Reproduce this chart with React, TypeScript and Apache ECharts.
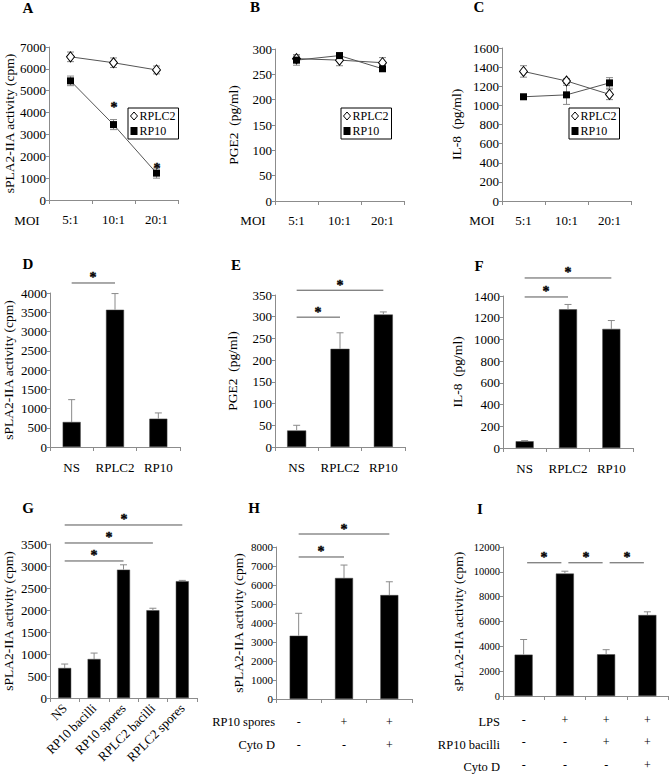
import React, { useEffect, useRef } from 'react';
import * as echarts from 'echarts';

const FONT = 'Liberation Serif';
const AX = '#8c8c8c';
const ERR = '#8a8a8a';
const SIG = '#555';

// ---- Panels A-C (MOI) ----
const moiCats = ['5:1', '10:1', '20:1'];
const aRPLC2 = [6550, 6280, 5950];
const aRPLC2Err = [220, 220, 180];
const aRP10 = [5450, 3450, 1230];
const aRP10Err = [220, 230, 230];
const aStars = [[1, 4370], [2, 1560]];
const bRPLC2 = [281, 278, 273];
const bRPLC2Err = [8, 11, 10];
const bRP10 = [278, 287, 261];
const bRP10Err = [10, 5, 5];
const cRPLC2 = [1355, 1255, 1115];
const cRPLC2Err = [60, 25, 55];
const cRP10 = [1090, 1110, 1235];
const cRP10Err = [20, 100, 55];

// ---- Panels D-F ----
const strainCats = ['NS', 'RPLC2', 'RP10'];
const dVals = [650, 3565, 735];
const dErr = [580, 420, 150];
const dSig = [[0, 1, 4260]];
const eVals = [38, 226, 305];
const eErr = [12, 37, 6];
const eSig = [[0, 1, 299], [0, 2, 361]];
const fVals = [62, 1277, 1097];
const fErr = [6, 45, 77];
const fSig = [[0, 1, 1391], [0, 2, 1566]];

// ---- Panel G ----
const gCats = ['NS', 'RP10 bacilli', 'RP10 spores', 'RPLC2 bacilli', 'RPLC2 spores'];
const gVals = [682, 886, 2917, 1995, 2655];
const gErr = [90, 135, 110, 45, 18];
const gSig = [[0, 2, 3114], [0, 3, 3523], [0, 4, 3932]];

// ---- Panel H ----
const hRowNames = ['RP10 spores', 'Cyto D'];
const hRows = [['-', '+', '+'], ['-', '-', '+']];
const hVals = [3330, 6370, 5470];
const hErr = [1180, 680, 700];
const hSig = [[0, 1, 7474], [0, 2, 8684]];

// ---- Panel I ----
const iRowNames = ['LPS', 'RP10 bacilli', 'Cyto D'];
const iRows = [['-', '+', '+', '+'], ['-', '-', '+', '+'], ['-', '-', '-', '+']];
const iVals = [3330, 9860, 3360, 6520];
const iErr = [1220, 190, 370, 260];
const iSig = [[0, 1, 10728], [1, 2, 10728], [2, 3, 10728]];

const yNames = [
  'sPLA2-IIA activity (cpm)', 'PGE2  (pg/ml)', 'IL-8  (pg/ml)',
  'sPLA2-IIA activity (cpm)', 'PGE2  (pg/ml)', 'IL-8  (pg/ml)',
  'sPLA2-IIA activity (cpm)', 'sPLA2-IIA activity (cpm)', 'sPLA2-IIA activity (cpm)',
];
const yMax = [7000, 300, 1600, 4000, 350, 1400, 3500, 8000, 12000];
const yInterval = [1000, 50, 200, 500, 50, 200, 500, 1000, 2000];
const panelLetters = ['A', 'B', 'C', 'D', 'E', 'F', 'G', 'H', 'I'];

const joinRows = (rows: string[][]) => rows[0].map((_, i) => rows.map((r) => r[i]).join('\n'));

function buildOption() {
  const grids = [
    { left: 49, top: 47, width: 129, height: 153 },
    { left: 275, top: 49, width: 129, height: 152 },
    { left: 502, top: 48, width: 129, height: 153 },
    { left: 49, top: 293, width: 131, height: 154 },
    { left: 275, top: 295, width: 130, height: 152 },
    { left: 503, top: 296, width: 130, height: 152 },
    { left: 48, top: 544, width: 149, height: 154 },
    { left: 276, top: 547, width: 136, height: 152 },
    { left: 503, top: 547, width: 165, height: 151 },
  ];
  const nameGaps = [32, 35, 39, 35, 36, 39, 35, 31, 38];
  const tickFont = [13, 13, 13, 13, 13, 13, 13, 11, 10.5];

  const catData = [moiCats, moiCats, moiCats, strainCats, strainCats, strainCats, gCats, joinRows(hRows), joinRows(iRows)];
  const xAxis = catData.map((data, gi) => {
    const label: any = { color: '#000', fontFamily: FONT, fontSize: 13, interval: 0, margin: gi < 3 ? 13 : 14 };
    if (gi === 6) { label.rotate = 45; label.margin = 8; }
    if (gi === 7) { label.lineHeight = 23; label.margin = 11; label.fontSize = 12; }
    if (gi === 8) { label.lineHeight = 22.5; label.margin = 12.5; label.fontSize = 12; }
    return {
      type: 'category', gridIndex: gi, data, boundaryGap: true,
      axisLine: { show: true, lineStyle: { color: AX, width: 1 } },
      axisTick: { show: true, length: 4, alignWithLabel: false, lineStyle: { color: AX } },
      axisLabel: label, splitLine: { show: false },
    };
  });
  const yAxis = grids.map((_, gi) => ({
    type: 'value', gridIndex: gi, min: 0, max: yMax[gi], interval: yInterval[gi],
    name: yNames[gi], nameLocation: 'middle', nameGap: nameGaps[gi],
    nameTextStyle: { color: '#000', fontFamily: FONT, fontSize: 13.5 },
    axisLine: { show: true, lineStyle: { color: AX, width: 1 } },
    axisTick: { show: true, length: 3, lineStyle: { color: AX } },
    axisLabel: { color: '#000', fontFamily: FONT, fontSize: tickFont[gi], margin: 3, formatter: (v: number) => String(v) },
    splitLine: { show: false },
  }));

  const lineSeries = (gi: number, name: string, data: number[]) => {
    const hollow = name === 'RPLC2';
    return {
      type: 'line', name, xAxisIndex: gi, yAxisIndex: gi, data, z: 4, silent: true,
      symbol: hollow ? 'diamond' : 'rect', symbolSize: hollow ? [8, 10] : 7,
      itemStyle: hollow ? { color: '#fff', borderColor: '#000', borderWidth: 1 } : { color: '#000', borderWidth: 0 },
      lineStyle: { color: '#555', width: 1 },
      emphasis: { disabled: true },
    };
  };

  const errSeries = (gi: number, vals: number[], errs: number[], both: boolean) => ({
    type: 'custom', xAxisIndex: gi, yAxisIndex: gi, silent: true, z: both ? 2 : 3,
    itemStyle: { color: ERR },
    data: vals.map((v, i) => [i, v, errs[i]]),
    encode: { x: 0, y: 1 },
    renderItem: (_p: any, api: any) => {
      const i = api.value(0), v = api.value(1), e = api.value(2);
      const top = api.coord([i, v + e]);
      const bot = api.coord([i, both ? v - e : v]);
      const hw = 3.5;
      const st = { stroke: ERR, lineWidth: 1 };
      const children: any[] = [
        { type: 'line', shape: { x1: top[0], y1: top[1], x2: bot[0], y2: bot[1] }, style: st },
        { type: 'line', shape: { x1: top[0] - hw, y1: top[1], x2: top[0] + hw, y2: top[1] }, style: st },
      ];
      if (both) children.push({ type: 'line', shape: { x1: bot[0] - hw, y1: bot[1], x2: bot[0] + hw, y2: bot[1] }, style: st });
      return { type: 'group', children };
    },
  });

  const starStyle = (x: number, y: number) => ({
    text: '*', x: Math.round(x), y: Math.round(y), align: 'center', verticalAlign: 'middle',
    fontFamily: FONT, fontSize: 14, fontWeight: 'bold', fill: '#000', stroke: '#000', lineWidth: 0.4,
  });

  const sigSeries = (gi: number, data: number[][], inset: number) => ({
    type: 'custom', xAxisIndex: gi, yAxisIndex: gi, silent: true, z: 5, clip: false,
    itemStyle: { color: '#000' },
    data, encode: { x: 0, y: 2 },
    renderItem: (_p: any, api: any) => {
      const p0 = api.coord([api.value(0), api.value(2)]);
      const p1 = api.coord([api.value(1), api.value(2)]);
      const x0 = p0[0] + inset, x1 = p1[0] - inset, y = p0[1];
      return {
        type: 'group', children: [
          { type: 'line', shape: { x1: x0, y1: y, x2: x1, y2: y }, style: { stroke: SIG, lineWidth: 1 } },
          { type: 'text', style: starStyle((x0 + x1) / 2, y - 5.5) },
        ],
      };
    },
  });

  const starSeries = (gi: number, data: number[][]) => ({
    type: 'custom', xAxisIndex: gi, yAxisIndex: gi, silent: true, z: 5, clip: false,
    itemStyle: { color: '#000' },
    data, encode: { x: 0, y: 1 },
    renderItem: (_p: any, api: any) => {
      const p = api.coord([api.value(0), api.value(1)]);
      return { type: 'text', style: starStyle(p[0], p[1] + 2.5) };
    },
  });

  const barSeries = (gi: number, vals: number[], barWidth: number) => ({
    type: 'bar', xAxisIndex: gi, yAxisIndex: gi, data: vals, barWidth, silent: true, z: 2,
    itemStyle: { color: '#000', borderColor: '#444', borderWidth: 0.5 },
    emphasis: { disabled: true },
  });

  const series: any[] = [
    lineSeries(0, 'RPLC2', aRPLC2), lineSeries(0, 'RP10', aRP10),
    errSeries(0, aRPLC2, aRPLC2Err, true), errSeries(0, aRP10, aRP10Err, true), starSeries(0, aStars),
    lineSeries(1, 'RPLC2', bRPLC2), lineSeries(1, 'RP10', bRP10),
    errSeries(1, bRPLC2, bRPLC2Err, true), errSeries(1, bRP10, bRP10Err, true),
    lineSeries(2, 'RPLC2', cRPLC2), lineSeries(2, 'RP10', cRP10),
    errSeries(2, cRPLC2, cRPLC2Err, true), errSeries(2, cRP10, cRP10Err, true),
    barSeries(3, dVals, 18), errSeries(3, dVals, dErr, false), sigSeries(3, dSig, 0),
    barSeries(4, eVals, 19), errSeries(4, eVals, eErr, false), sigSeries(4, eSig, 0),
    barSeries(5, fVals, 18), errSeries(5, fVals, fErr, false), sigSeries(5, fSig, 0),
    barSeries(6, gVals, 13), errSeries(6, gVals, gErr, false), sigSeries(6, gSig, 0),
    barSeries(7, hVals, 18), errSeries(7, hVals, hErr, false), sigSeries(7, hSig, 0),
    barSeries(8, iVals, 18), errSeries(8, iVals, iErr, false), sigSeries(8, iSig, 3.5),
  ];

  const legendItems = [
    { name: 'RPLC2', icon: 'diamond', itemStyle: { color: '#fff', borderColor: '#000', borderWidth: 1 } },
    { name: 'RP10', icon: 'rect', itemStyle: { color: '#000', borderWidth: 0 } },
  ];
  const legendPos = [[128, 108], [341, 108], [569, 108]];
  const legend = legendPos.map(([l, t]) => ({
    left: l, top: t, orient: 'vertical', selectedMode: false,
    borderColor: '#000', borderWidth: 1, padding: [2, 3, 2, 2], itemGap: 3,
    itemWidth: 7, itemHeight: 8,
    textStyle: { fontFamily: FONT, fontSize: 12, color: '#000', padding: [0, 0, 0, -3] },
    data: legendItems,
  }));

  const letterPos = [[28, 8], [255, 7], [479, 7], [28, 264], [236, 265], [479, 266], [28, 508], [254, 508], [480, 509]];
  const texts: any[] = panelLetters.map((t, i) => ({
    type: 'text', x: letterPos[i][0], y: letterPos[i][1],
    style: { text: t, align: 'center', verticalAlign: 'middle', fontFamily: FONT, fontSize: 15, fontWeight: 'bold', fill: '#000' },
  }));
  [[27, 220], [253, 220], [482, 220]].forEach(([x, y]) => texts.push({
    type: 'text', x, y, style: { text: 'MOI', align: 'center', verticalAlign: 'middle', fontFamily: FONT, fontSize: 13, fill: '#000' },
  }));
  hRowNames.forEach((t, r) => texts.push({
    type: 'text', x: 275, y: 722 + r * 23,
    style: { text: t, align: 'right', verticalAlign: 'middle', fontFamily: FONT, fontSize: 12.5, fill: '#000' },
  }));
  iRowNames.forEach((t, r) => texts.push({
    type: 'text', x: 500, y: 722 + r * 22.5,
    style: { text: t, align: 'right', verticalAlign: 'middle', fontFamily: FONT, fontSize: 12.5, fill: '#000' },
  }));

  return {
    animation: false,
    backgroundColor: '#fff',
    textStyle: { fontFamily: FONT },
    grid: grids.map((g) => ({ ...g, containLabel: false })),
    xAxis, yAxis, series, legend,
    graphic: { elements: texts },
  };
}

export default function App() {
  const ref = useRef<HTMLDivElement>(null);
  useEffect(() => {
    if (!ref.current) return;
    const chart = echarts.init(ref.current, null, { renderer: 'svg' });
    chart.setOption(buildOption() as any);
    return () => chart.dispose();
  }, []);
  return <div ref={ref} style={{ position: 'absolute', left: 0, top: 0, width: 669, height: 776, background: '#fff' }} />;
}
